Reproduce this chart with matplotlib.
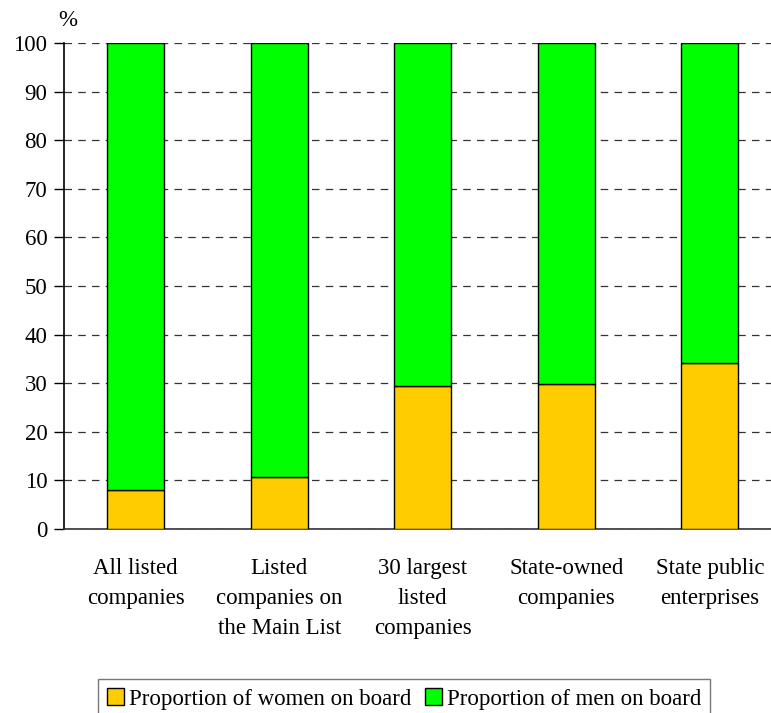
import numpy as np
import matplotlib
matplotlib.use("Agg")
from matplotlib import pyplot as plt

categories = ["All listed\ncompanies", "Listed\ncompanies on\nthe Main List",
              "30 largest\nlisted\ncompanies", "State-owned\ncompanies",
              "State public\nenterprises"]
women = [8.0, 10.6, 29.4, 29.8, 34.1]
men = [100 - w for w in women]

plt.rcParams['font.family'] = ['Liberation Serif', 'DejaVu Serif']

fig = plt.figure(figsize=(7.71, 7.13), dpi=100)
# axes run off the right edge of the figure, as in the reference
ax = fig.add_axes([64 / 771, 1 - 529 / 713, 717.5 / 771, 486 / 713])

x = np.arange(len(categories))
ax.bar(x, women, width=0.4, color="#FFCC00", edgecolor="black", linewidth=1,
       label="Proportion of women on board", zorder=3)
ax.bar(x, men, width=0.4, bottom=women, color="#00FF00", edgecolor="black",
       linewidth=1, label="Proportion of men on board", zorder=3)

ax.set_xlim(-0.5, 4.5)
ax.set_ylim(0, 100)
ax.set_yticks(np.arange(0, 101, 10))
ax.yaxis.grid(True, linestyle=(0, (6, 5)), color="#333333", linewidth=0.9, zorder=0)
ax.set_xticks(x)
ax.set_xticklabels(categories, fontsize=16.5, linespacing=1.55)
ax.tick_params(axis="y", labelsize=16.5, length=7, direction="out", width=1, pad=5)
ax.tick_params(axis="x", length=0, pad=21)
for s in ["top", "right"]:
    ax.spines[s].set_visible(False)
ax.spines["left"].set_linewidth(1.2)
ax.spines["bottom"].set_linewidth(1.2)
ax.spines["bottom"].set_color("#333333")

fig.text(58 / 771, 1 - 20 / 713, "%", fontsize=16.5, ha="left", va="center")

leg = fig.legend(loc="lower left", bbox_to_anchor=(98 / 771, -6 / 713), ncol=2,
                 fontsize=16.5, frameon=True, fancybox=False, edgecolor="#555555",
                 handlelength=0.75, handleheight=0.75, handletextpad=0.2,
                 columnspacing=0.6, borderpad=0.4, borderaxespad=0)
leg.get_frame().set_linewidth(1)

plt.savefig("out.png", dpi=100)
